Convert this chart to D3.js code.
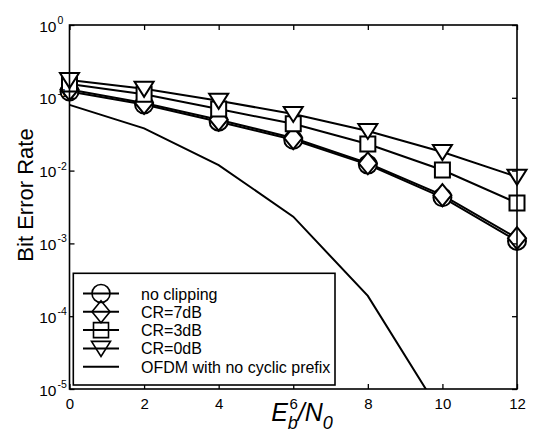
<!DOCTYPE html>
<html><head><meta charset="utf-8">
<script src="https://cdn.jsdelivr.net/npm/d3@7"></script>
<style>body{margin:0;background:#fff}svg{display:block}text{font-family:"Liberation Sans",Arial,sans-serif;fill:#000}</style>
</head><body>
<svg id="c" width="534" height="432"></svg>
<script>
// ---- data ----
const ebn0 = [0, 2, 4, 6, 8, 10, 12];
const noClipping = [0.122, 0.081, 0.047, 0.0265, 0.0121, 0.0043, 0.00108];
const cr7 = [0.130, 0.085, 0.050, 0.028, 0.0126, 0.0046, 0.00118];
const cr3 = [0.155, 0.112, 0.070, 0.044, 0.0232, 0.0102, 0.0036];
const cr0 = [0.175, 0.133, 0.091, 0.060, 0.035, 0.018, 0.0082];
const ofdmX = [0, 2, 4, 6, 8, 10];
const ofdmBer = [0.08, 0.038, 0.0119, 0.00233, 0.00019, 0.0000043];
const xTicks = [0, 2, 4, 6, 8, 10, 12];
const yTicks = [1e-5, 1e-4, 1e-3, 1e-2, 1e-1, 1];
const yExps = ["-5", "-4", "-3", "-2", "-1", "0"];
const legendLabels = ["no clipping", "CR=7dB", "CR=3dB", "CR=0dB", "OFDM with no cyclic prefix"];

const series = [
  {name: legendLabels[0], vals: noClipping, marker: "circle"},
  {name: legendLabels[1], vals: cr7, marker: "diamond"},
  {name: legendLabels[2], vals: cr3, marker: "square"},
  {name: legendLabels[3], vals: cr0, marker: "triangle"}
];

const svg = d3.select("#c");
const L = 69.5, R = 517, T = 25, B = 389;
const x = d3.scaleLinear().domain([0, 12]).range([L, R]);
const y = d3.scaleLog().domain([1e-5, 1]).range([B, T]);

svg.append("defs").append("clipPath").attr("id", "clip")
  .append("rect").attr("x", L).attr("y", T).attr("width", R - L).attr("height", B - T);

function markerPath(type, cx, cy) {
  const p = d3.path();
  if (type === "circle") { p.moveTo(cx + 9, cy); p.arc(cx, cy, 9, 0, 2 * Math.PI); }
  else if (type === "diamond") { p.moveTo(cx, cy - 11); p.lineTo(cx + 9, cy); p.lineTo(cx, cy + 11); p.lineTo(cx - 9, cy); p.closePath(); }
  else if (type === "square") { p.rect(cx - 7.5, cy - 7.5, 15, 15); }
  else if (type === "triangle") { p.moveTo(cx - 9.5, cy - 7); p.lineTo(cx + 9.5, cy - 7); p.lineTo(cx, cy + 8); p.closePath(); }
  return p.toString();
}

const line = d3.line().x(d => x(d[0])).y(d => y(d[1]));
const plot = svg.append("g").attr("clip-path", "url(#clip)");

// OFDM curve
plot.append("path").attr("d", line(ofdmX.map((v, i) => [v, ofdmBer[i]])))
  .attr("fill", "none").attr("stroke", "#000").attr("stroke-width", 2);

// series lines
series.forEach(s => {
  plot.append("path").attr("d", line(ebn0.map((v, i) => [v, s.vals[i]])))
    .attr("fill", "none").attr("stroke", "#000").attr("stroke-width", 2);
});
// markers
const mk = svg.append("g");
series.forEach(s => {
  ebn0.forEach((v, i) => {
    mk.append("path").attr("d", markerPath(s.marker, x(v), y(s.vals[i])))
      .attr("fill", "#fff").attr("stroke", "#000").attr("stroke-width", 2);
  });
});

// axes box and ticks
const axStyle = g => { g.select(".domain").remove(); g.selectAll("line").attr("stroke", "#000").attr("stroke-width", 1.3); };
svg.append("g").attr("transform", `translate(0,${B})`)
  .call(d3.axisBottom(x).tickValues(xTicks).tickSize(-5).tickPadding(9).tickFormat(d3.format("d")))
  .call(axStyle)
  .call(g => g.selectAll("text").attr("font-size", 15).attr("font-family", '"Liberation Sans",Arial,sans-serif').attr("fill", "#000"));
svg.append("g").attr("transform", `translate(0,${T})`)
  .call(d3.axisTop(x).tickValues(xTicks).tickSize(-5).tickFormat("")).call(axStyle);
svg.append("g").attr("transform", `translate(${L},0)`)
  .call(d3.axisLeft(y).tickValues(yTicks).tickSize(-5).tickFormat("")).call(axStyle);
svg.append("g").attr("transform", `translate(${R},0)`)
  .call(d3.axisRight(y).tickValues(yTicks).tickSize(-5).tickFormat("")).call(axStyle);
svg.append("rect").attr("x", L).attr("y", T).attr("width", R - L).attr("height", B - T)
  .attr("fill", "none").attr("stroke", "#000").attr("stroke-width", 1.6);

// y tick labels with superscripts
yTicks.forEach((v, i) => {
  svg.append("text").attr("x", 56.5).attr("y", y(v) + 6.5).attr("text-anchor", "end")
    .attr("font-size", 15.5).text("10");
  svg.append("text").attr("x", 57.5).attr("y", y(v) - 1).attr("text-anchor", "start")
    .attr("font-size", 10.5).text(yExps[i]);
});

// axis titles
svg.append("text").attr("transform", `translate(33,${(T + B) / 2 - 12}) rotate(-90)`)
  .attr("text-anchor", "middle").attr("font-size", 22).text("Bit Error Rate");
const xt = svg.append("text").attr("x", 302).attr("y", 421).attr("text-anchor", "middle")
  .attr("font-size", 25).attr("font-style", "italic");
xt.append("tspan").text("E");
xt.append("tspan").attr("font-size", 18).attr("dy", 8).text("b");
xt.append("tspan").attr("dy", -8).text("/N");
xt.append("tspan").attr("font-size", 18).attr("dy", 8).text("0");

// legend
const lg = svg.append("g");
lg.append("rect").attr("x", 73.3).attr("y", 273.3).attr("width", 261.7).attr("height", 111.7)
  .attr("fill", "#fff").attr("stroke", "#000").attr("stroke-width", 1.6);
const rowY = i => 293.5 + i * 18.3;
legendLabels.forEach((lab, i) => {
  const yy = rowY(i);
  lg.append("line").attr("x1", 83).attr("x2", 119).attr("y1", yy).attr("y2", yy)
    .attr("stroke", "#000").attr("stroke-width", 2);
  if (i < series.length) {
    lg.append("path").attr("d", markerPath(series[i].marker, 101, yy))
      .attr("fill", "none").attr("stroke", "#000").attr("stroke-width", 1.6);
  }
  lg.append("text").attr("x", 141).attr("y", yy + 6).attr("font-size", 16).text(lab);
});
</script>
</body></html>
